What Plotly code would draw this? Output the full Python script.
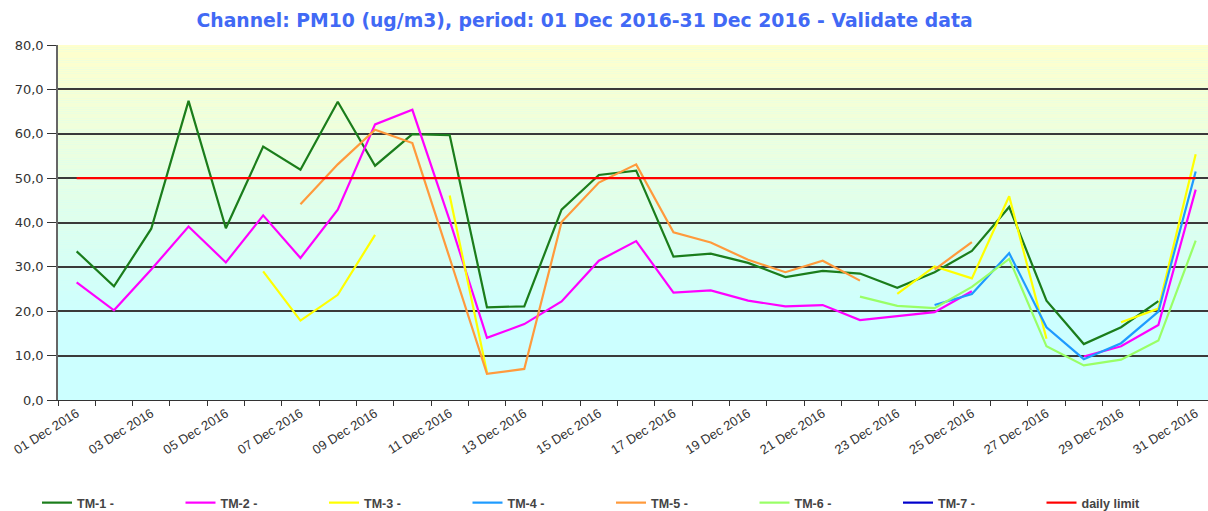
import plotly.graph_objects as go

days = [f"{d:02d} Dec 2016" for d in range(1, 32)]
N = None

tm1 = [33.5, 25.6, 38.6, 67.4, 38.7, 57.1, 51.9, 67.2, 52.8, 59.9, 59.7, 20.9, 21.1, 42.9, 50.7, 51.7,
       32.3, 33.0, 30.9, 27.7, 29.1, 28.5, 25.3, 28.8, 33.6, 43.5, 22.4, 12.6, 16.4, 22.3, N]
tm2 = [26.5, 20.2, 29.4, 39.1, 31.0, 41.6, 32.0, 42.9, 62.1, 65.4, 40.5, 14.0, 17.1, 22.2, 31.4, 35.8,
       24.2, 24.7, 22.4, 21.1, 21.4, 18.0, 18.9, 19.8, 24.5, N, N, 9.8, 12.1, 16.9, 47.4]
tm3 = [N, N, N, N, N, 29.0, 17.9, 23.7, 37.2, N, 46.1, 6.2, N, N, N, N,
       N, N, N, N, N, N, 23.9, 30.1, 27.4, 45.9, 13.8, N, 17.5, 20.6, 55.4]
tm4 = [N] * 23 + [21.4, 23.9, 33.1, 16.4, 9.2, 12.8, 19.9, 51.5]
tm5 = [N, N, N, N, N, N, 44.1, 53.1, 60.9, 57.9, 32.0, 5.9, 7.0, 40.1, 49.0, 53.1,
       37.8, 35.5, 31.6, 28.8, 31.4, 26.9, N, 29.4, 35.6, N, N, N, N, N, N]
tm6 = [N] * 21 + [23.3, 21.2, 20.7, 25.5, 31.8, 12.1, 7.8, 9.1, 13.4, 35.9]
tm7 = [N] * 31
limit = [50.0] * 31

series = [
    ("TM-1 -", tm1, "#1b7d1b"),
    ("TM-2 -", tm2, "#ff00ff"),
    ("TM-3 -", tm3, "#ffff00"),
    ("TM-4 -", tm4, "#1e9bff"),
    ("TM-5 -", tm5, "#ff9a3c"),
    ("TM-6 -", tm6, "#99ff66"),
    ("TM-7 -", tm7, "#0000cc"),
    ("daily limit", limit, "#ff0000"),
]

xs = list(range(len(days)))
fig = go.Figure()
for name, vals, col in series:
    fig.add_trace(go.Scatter(
        x=xs, y=vals, name=name, mode="lines",
        line=dict(color=col, width=2.2), connectgaps=False,
        showlegend=True,
    ))

# vertical gradient background (yellow top -> cyan bottom)
top = (255, 255, 204)
bot = (204, 255, 255)
shapes = []
step = 0.5
n = int(80 / step)
for i in range(n):
    y0 = i * step
    v = y0 + step / 2
    t = min(max((v - 18) / (80 - 18), 0), 1)
    c = tuple(round(bot[k] + (top[k] - bot[k]) * t) for k in range(3))
    shapes.append(dict(type="rect", xref="paper", yref="y", x0=0, x1=1, y0=y0, y1=y0 + step,
                       fillcolor=f"rgb{c}", line=dict(width=0), layer="below"))

fig.update_layout(
    width=1208, height=511,
    margin=dict(l=58, r=0, t=45, b=111, autoexpand=False),
    paper_bgcolor="white", plot_bgcolor="#ccffff",
    separators=",.",
    shapes=shapes,
    title=dict(text="Channel: PM10 (ug/m3), period: 01 Dec 2016-31 Dec 2016 - Validate data",
               x=0.4839, xref="container", xanchor="center", y=1 - 20 / 511, yref="container",
               yanchor="middle",
               font=dict(family="DejaVu Sans", size=18.8, color="#4169f5", weight="bold")),
    showlegend=True,
    legend=dict(orientation="h", xref="container", yref="container",
                x=37 / 1208, xanchor="left", y=1 - 503 / 511, yanchor="middle",
                font=dict(family="Liberation Sans", size=12.5, color="#444444", weight="bold"),
                entrywidth=98.5, entrywidthmode="pixels", bgcolor="rgba(0,0,0,0)"),
)

fig.update_xaxes(
    range=[-0.5, 30.33], showgrid=False, zeroline=False, automargin=False,
    tickmode="array", tickvals=xs[::2], ticktext=days[::2], tickangle=-32,
    ticks="", showline=True, linecolor="#333333", linewidth=1,
    tickfont=dict(family="Liberation Sans", size=13, color="#333333"),
    minor=dict(tickmode="linear", tick0=-0.5, dtick=1, ticks="outside", ticklen=5,
               tickcolor="#333333", showgrid=False),
)
fig.update_yaxes(
    range=[0, 80], dtick=10, tickformat=".1f", showgrid=True, gridcolor="#3a3a3a", gridwidth=1.5,
    zeroline=False, showline=True, linecolor="#666666", linewidth=1.5, automargin=False,
    ticks="outside", ticklen=9, tickcolor="#333333", ticklabelstandoff=1,
    tickfont=dict(family="DejaVu Sans", size=13, color="#333333"),
)

fig.write_html(
    "out.html",
    config={"displayModeBar": False},
    post_script="document.body.style.margin='0';document.body.style.overflow='hidden';",
)
